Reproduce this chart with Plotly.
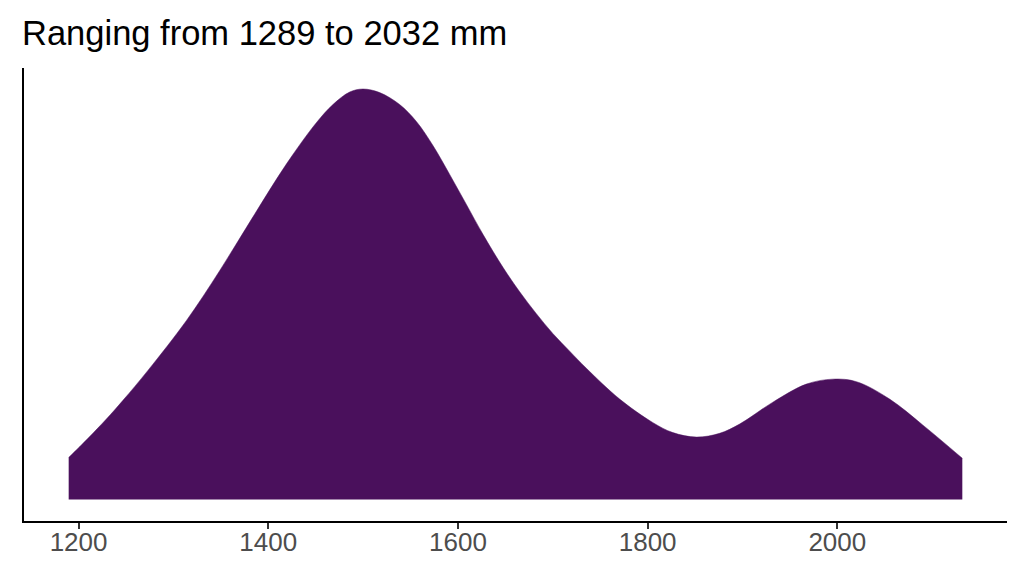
import plotly.graph_objects as go

# Density estimate (x in mm, density)
length_mm = [1189.56, 1194.10, 1209.91, 1229.31, 1246.81, 1273.17, 1313.65, 1348.76,
             1383.87, 1419.08, 1450.71, 1468.21, 1485.82, 1499.84, 1517.45, 1538.53,
             1556.14, 1573.64, 1591.25, 1608.86, 1626.36, 1647.44, 1665.05, 1682.66,
             1700.16, 1717.76, 1735.37, 1770.48, 1805.59, 1826.67, 1851.34, 1875.91,
             1897.00, 1932.10, 1967.32, 1995.36, 2020.03, 2055.14, 2090.25, 2131.79]
density = [0.000236, 0.000259, 0.000343, 0.000451, 0.000556, 0.000724, 0.001003, 0.001283,
           0.001585, 0.001881, 0.002113, 0.002215, 0.002285, 0.002302, 0.002282, 0.002215,
           0.002120, 0.001985, 0.001823, 0.001655, 0.001487, 0.001302, 0.001165, 0.001042,
           0.000930, 0.000832, 0.000736, 0.000563, 0.000431, 0.000375, 0.000350, 0.000371,
           0.000423, 0.000546, 0.000647, 0.000675, 0.000661, 0.000563, 0.000417, 0.000231]
x_ticks = [1200, 1400, 1600, 1800, 2000]
title_text = "Ranging from 1289 to 2032 mm"

FILL = "#4A105C"

fig = go.Figure()
fig.add_trace(go.Scatter(
    x=length_mm, y=density, mode="lines",
    line=dict(color=FILL, width=0.5, shape="spline", smoothing=1.0),
    fill="tozeroy", fillcolor=FILL, hoverinfo="skip", showlegend=False,
))

xmin, xmax = min(length_mm), max(length_mm)
xpad = 0.05 * (xmax - xmin)
ymax = max(density)

fig.update_layout(
    width=1024, height=576,
    margin=dict(l=24, r=17, t=68, b=55),
    paper_bgcolor="white", plot_bgcolor="white",
    font=dict(family="Liberation Sans, Arial, sans-serif"),
    title=dict(text=title_text, x=22 / 1024, xanchor="left", xref="container",
               y=1 - 33 / 576, yanchor="middle", yref="container",
               font=dict(size=34.5, color="black")),
    xaxis=dict(range=[xmin - xpad, xmax + xpad], tickvals=x_ticks,
               showgrid=False, zeroline=False, showline=True, linecolor="black",
               linewidth=2, ticks="outside", ticklen=6, tickwidth=2,
               tickcolor="#333333", tickfont=dict(size=26, color="#4D4D4D"),
               ticklabelstandoff=-9, automargin=False),
    yaxis=dict(range=[-0.0524 * ymax, 1.0512 * ymax], showgrid=False,
               zeroline=False, showline=True, linecolor="black", linewidth=2,
               showticklabels=False, ticks="", automargin=False),
)

fig.write_html("out.html", config={"displayModeBar": False},
               post_script="document.body.style.margin='0';")
